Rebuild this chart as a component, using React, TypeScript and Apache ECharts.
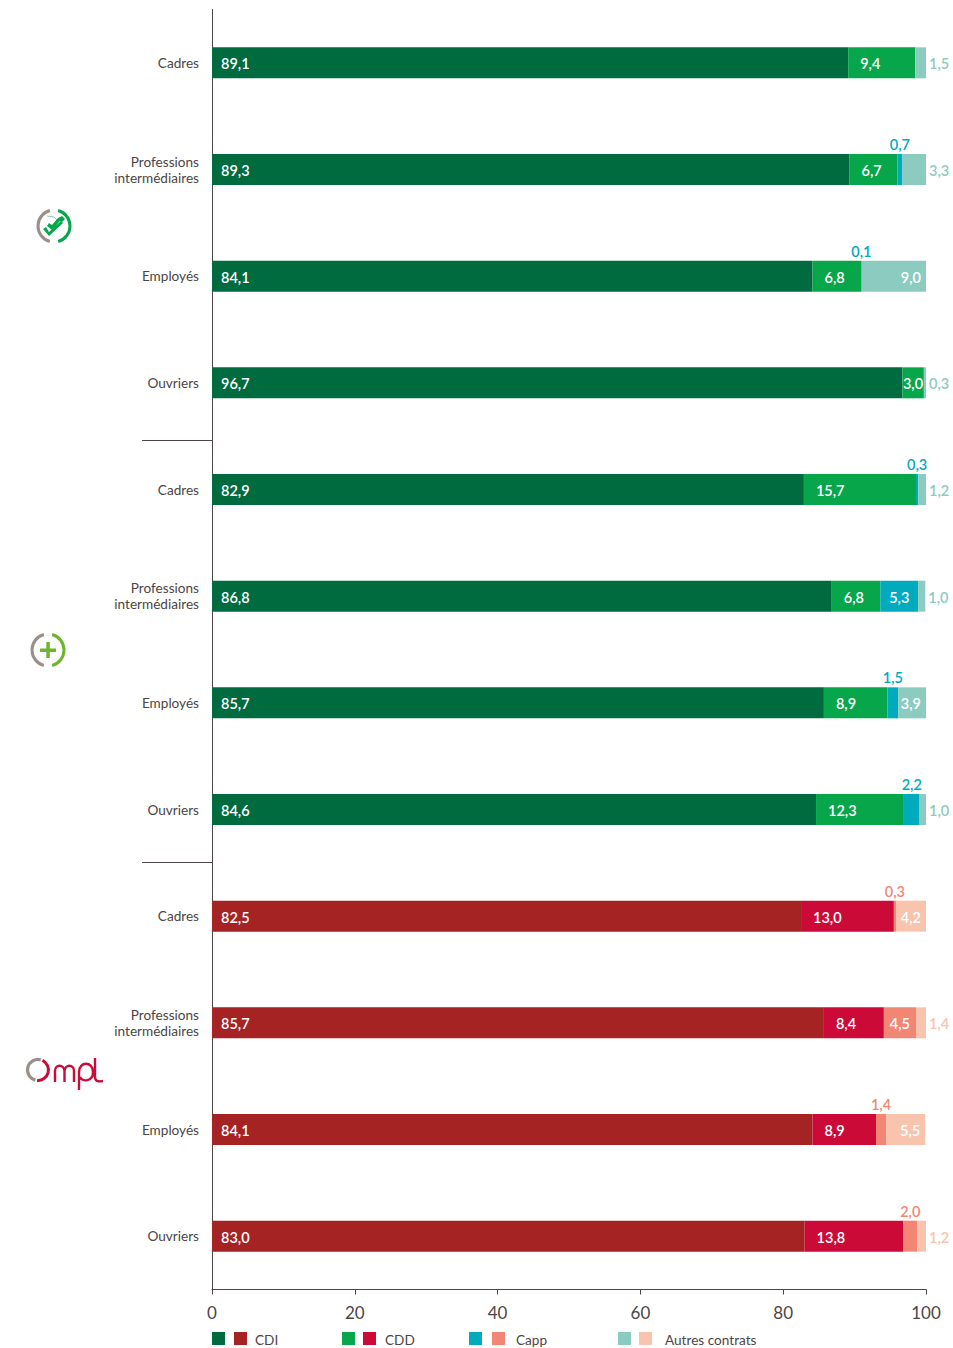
import React, { useEffect, useRef } from "react";
import * as echarts from "echarts";

const categories = [
  "Cadres", "Professions\nintermédiaires", "Employés", "Ouvriers",
  "Cadres", "Professions\nintermédiaires", "Employés", "Ouvriers",
  "Cadres", "Professions\nintermédiaires", "Employés", "Ouvriers",
];
const cdi = [89.1, 89.3, 84.1, 96.7, 82.9, 86.8, 85.7, 84.6, 82.5, 85.7, 84.1, 83.0];
const cdd = [9.4, 6.7, 6.8, 3.0, 15.7, 6.8, 8.9, 12.3, 13.0, 8.4, 8.9, 13.8];
const capp = [0, 0.7, 0.1, 0, 0.3, 5.3, 1.5, 2.2, 0.3, 4.5, 1.4, 2.0];
const autres = [1.5, 3.3, 9.0, 0.3, 1.2, 1.0, 3.9, 1.0, 4.2, 1.4, 5.5, 1.2];
const xTicks = [0, 20, 40, 60, 80, 100];
const legendNames = ["CDI", "CDD", "Capp", "Autres contrats"];

const greens = ["#006b3f", "#07a64a", "#00abbd", "#8ccbc0"];
const reds = ["#a52322", "#cc0a37", "#f28674", "#f9c4ae"];
const FONT = "Lato";
const TEXT = "#4d4544";

const fmt = (v: number) => v.toFixed(1).replace(".", ",");
const paletteOf = (i: number) => (i >= 8 ? reds : greens);

echarts.graphic.registerShape(
  "omplLetters",
  echarts.graphic.extendPath(
    "M55 1082 L55 1071 C55 1064 64 1064 64.5 1071 L64.5 1082 M64.5 1071 C65 1064 74 1064 74 1071 L74 1082 M79 1090 L79 1072 C79 1061 93 1061 93 1072 C93 1082 82 1082 80 1077 M95 1058 L95 1077 C95 1081 98 1082 103 1081",
    {}
  )
);
echarts.graphic.registerShape(
  "checkMark",
  echarts.graphic.extendPath(
    "M43 229 L49 236 L63 223 L61 221 L49 232 L46 227 Z M47 226 L52 230 L60 221 L62 222 L65 219 L62 216 L58 218 L52 225 L49 223 Z",
    {}
  )
);

const arc = (cx: number, cy: number, r: number, a0: number, a1: number, color: string, w = 3) => ({
  type: "arc",
  silent: true,
  shape: { cx, cy, r, startAngle: (a0 * Math.PI) / 180, endAngle: (a1 * Math.PI) / 180, clockwise: true },
  style: { stroke: color, lineWidth: w, fill: "none" },
});

const makeSeries = (name: string, values: number[], idx: number) => ({
  name,
  type: "bar",
  stack: "total",
  barWidth: 31,
  silent: true,
  data: values.map((v, i) => {
    const color = paletteOf(i)[idx];
    let label: any = { show: v > 0 };
    if (idx === 0) {
      label = { show: true, position: "insideLeft", distance: 9, color: "#fff" };
    } else if (idx === 1) {
      label = { show: true, position: "insideLeft", distance: v < 5 ? 0.5 : 12, color: "#fff" };
    } else if (idx === 2) {
      label = v >= 4
        ? { show: true, position: "inside", color: "#fff" }
        : { show: v > 0, position: "top", distance: 2, color };
    } else {
      label = v >= 3.5
        ? { show: true, position: "insideRight", distance: 5, color: "#fff" }
        : { show: true, position: "right", distance: 3, color };
    }
    return {
      value: v,
      itemStyle: { color },
      label: {
        offset: idx === 2 && v < 4 ? [0, 0] : [0, 1],
        ...label,
        formatter: fmt(v),
        fontFamily: FONT,
        fontSize: 14.5,
        fontWeight: 600,
      },
    };
  }),
});

const legendSwatches = [212, 234, 342, 363, 469, 492, 618, 639];
const legendColors = [greens[0], reds[0], greens[1], reds[1], greens[2], reds[2], greens[3], reds[3]];
const legendTextX = [255, 385, 516, 665];

export default function App() {
  const ref = useRef<HTMLDivElement>(null);
  useEffect(() => {
    document.body.style.margin = "0";
    const chart = echarts.init(ref.current!, undefined, { renderer: "svg" });
    chart.setOption({
      animation: false,
      backgroundColor: "#fff",
      grid: { left: 212, width: 714, top: 9.5, height: 1280, containLabel: false },
      xAxis: {
        type: "value",
        min: 0,
        max: 100,
        interval: 20,
        splitLine: { show: false },
        axisLine: { show: true, lineStyle: { color: TEXT, width: 1 } },
        axisTick: { show: true, length: 5, lineStyle: { color: TEXT, width: 1 } },
        axisLabel: {
          margin: 14,
          color: TEXT,
          fontFamily: FONT,
          fontSize: 17,
          formatter: (v: number) => (xTicks.includes(v) ? String(v) : ""),
        },
      },
      yAxis: {
        type: "category",
        inverse: true,
        data: categories,
        axisLine: { show: true, onZero: false, lineStyle: { color: TEXT, width: 1 } },
        axisTick: { show: false },
        axisLabel: {
          margin: 13,
          color: TEXT,
          fontFamily: FONT,
          fontSize: 13.6,
          lineHeight: 16,
          align: "right",
          padding: [2, 0, 0, 0],
        },
      },
      series: [
        makeSeries("CDI", cdi, 0),
        makeSeries("CDD", cdd, 1),
        makeSeries("Capp", capp, 2),
        makeSeries("Autres contrats", autres, 3),
      ],
      graphic: [
        { type: "line", silent: true, shape: { x1: 142, y1: 440.5, x2: 212, y2: 440.5 }, style: { stroke: TEXT, lineWidth: 1 } },
        { type: "line", silent: true, shape: { x1: 142, y1: 862.5, x2: 212, y2: 862.5 }, style: { stroke: TEXT, lineWidth: 1 } },
        // legend
        ...legendSwatches.map((x, i) => ({
          type: "rect",
          silent: true,
          shape: { x, y: 1332, width: 13, height: 13 },
          style: { fill: legendColors[i] },
        })),
        ...legendNames.map((name, i) => ({
          type: "text",
          silent: true,
          x: legendTextX[i],
          y: 1340,
          style: { text: name, fill: TEXT, font: `13.6px ${FONT}`, textVerticalAlign: "middle" },
        })),
        // first icon
        arc(54, 226, 16, 105, 255, "#9b8f8a"),
        arc(54, 226, 16, 285, 75, "#07a64a"),
        { type: "polyline", silent: true, shape: { points: [[47, 216], [54, 217], [59, 222]] }, style: { stroke: "#8ccbc0", lineWidth: 1, fill: "none" } },
        { type: "checkMark", silent: true, style: { fill: "#07a64a" } },
        // second icon
        arc(48, 650, 16, 105, 255, "#9b8f8a"),
        arc(48, 650, 16, 285, 75, "#6db52f"),
        { type: "rect", silent: true, shape: { x: 40, y: 648.5, width: 16, height: 3.5 }, style: { fill: "#6db52f" } },
        { type: "rect", silent: true, shape: { x: 46.3, y: 642, width: 3.5, height: 16 }, style: { fill: "#6db52f" } },
        // third icon
        arc(38, 1070, 10.5, 105, 285, "#9b8f8a", 3.2),
        arc(38, 1070, 10.5, 295, 95, "#cc0a37", 3),
        { type: "omplLetters", silent: true, style: { stroke: "#cc0a37", lineWidth: 2.4, fill: "none" } },
      ],
    });
    return () => chart.dispose();
  }, []);
  return <div ref={ref} style={{ width: 953, height: 1348 }} />;
}
